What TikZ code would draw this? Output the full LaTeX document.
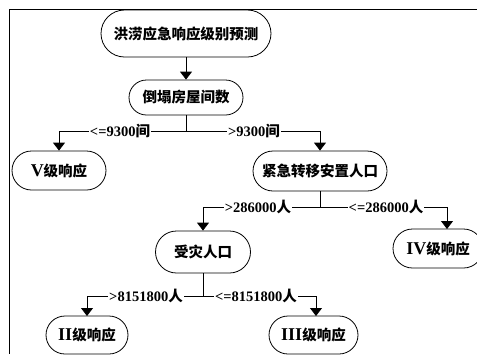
\documentclass[tikz,border=0pt]{standalone}
\usepackage{fontspec}
\setmainfont{Liberation Serif}
\newfontfamily\cjk{Noto Sans CJK SC}
\newcommand{\latbig}[1]{{\fontsize{18}{18}\selectfont #1}}
\usetikzlibrary{arrows.meta}
\begin{document}
\begin{tikzpicture}[x=1pt,y=-1pt,
  txt/.style={font=\fontsize{14.5}{16}\selectfont\bfseries},
  box/.style={txt,draw,line width=0.8pt,inner sep=0pt},
  lbl/.style={txt,fill=white,inner sep=1pt},
  ln/.style={line width=0.8pt},
  arr/.style={line width=0.8pt,-{Triangle[width=12pt,length=8pt]}}]
\useasboundingbox (0,0) rectangle (477,354);
\draw[ln] (477,9) -- (9,9) -- (9,354);
% nodes
\node[box,minimum width=170pt,minimum height=47pt,rounded corners=23.5pt] (n1) at (186,33.5) {\cjk 洪涝应急响应级别预测};
\node[box,minimum width=114pt,minimum height=35pt,rounded corners=17.5pt] (n2) at (186,97.5) {\cjk 倒塌房屋间数};
\node[box,minimum width=94pt,minimum height=39pt,rounded corners=19.5pt] (v) at (59,170.5) {\latbig{V}{\cjk 级响应}};
\node[box,minimum width=134pt,minimum height=40pt,rounded corners=20pt] (jj) at (320,171) {\cjk 紧急转移安置人口};
\node[box,minimum width=95pt,minimum height=42pt,rounded corners=21pt] (sz) at (203,252) {\cjk 受灾人口};
\node[box,minimum width=90pt,minimum height=39pt,rounded corners=19.5pt] (iv) at (438,248.5) {\latbig{IV}{\cjk 级响应}};
\node[box,minimum width=82pt,minimum height=38pt,rounded corners=19pt] (ii) at (87,335) {\latbig{II}{\cjk 级响应}};
\node[box,minimum width=89pt,minimum height=38pt,rounded corners=19pt] (iii) at (313.5,335) {\latbig{III}{\cjk 级响应}};
% connectors
\draw[arr] (n1) -- (n2);
\coordinate (b1) at (186,131);
\draw[ln] (n2) -- (b1);
\draw[arr] (b1) -| (v.north);
\draw[arr] (b1) -| (jj.north);
\coordinate (b2) at (320,207);
\draw[ln] (jj) -- (b2);
\draw[arr] (b2) -| (sz.north);
\coordinate (ivin) at (447,229);
\draw[arr] (b2) -| (ivin);
\coordinate (b3) at (203,296);
\draw[ln] (sz) -- (b3);
\coordinate (iiin) at (87,316);
\coordinate (iiiin) at (316,316);
\draw[arr] (b3) -| (iiin);
\draw[arr] (b3) -| (iiiin);
% labels
\node[lbl] (l1) at (120,131) {<=9300{\cjk 间}};
\node[lbl] (l2) at (254,131) {>9300{\cjk 间}};
\node[lbl] (l3) at (258,207) {>286000{\cjk 人}};
\node[lbl] (l4) at (386,207) {<=286000{\cjk 人}};
\node[lbl] (l5) at (146,296) {>8151800{\cjk 人}};
\node[lbl] (l6) at (256,296) {<=8151800{\cjk 人}};
\end{tikzpicture}
\end{document}
